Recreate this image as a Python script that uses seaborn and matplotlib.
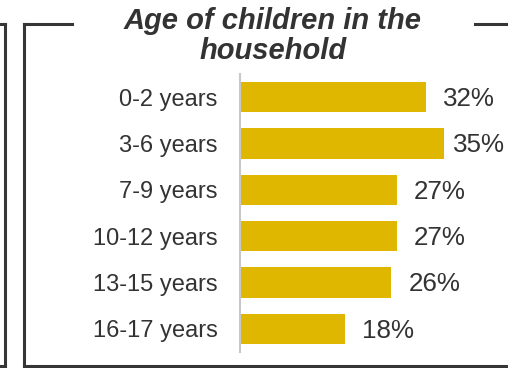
import matplotlib
matplotlib.use("Agg")
import matplotlib.pyplot as plt
import seaborn as sns
import pandas as pd
from matplotlib.lines import Line2D

# data
age_groups = ['0-2 years', '3-6 years', '7-9 years', '10-12 years', '13-15 years', '16-17 years']
shares = [32, 35, 27, 27, 26, 18]

sns.set_style('white')
plt.rcParams['font.family'] = ['Liberation Sans', 'DejaVu Sans']

W, H = 508, 368
fig = plt.figure(figsize=(W / 100, H / 100), dpi=100)
ax = fig.add_axes([240 / W, 1 - 352 / H, 233 / W, 278 / H])

df = pd.DataFrame({'age': age_groups, 'share': shares})
sns.barplot(data=df, y='age', x='share', orient='h', color='#E0B700',
            saturation=1, width=0.65, edgecolor='none', ax=ax)

ax.set_xlim(0, 40)
ax.set_ylim(5.5, -0.5)
ax.set_xlabel('')
ax.set_ylabel('')
ax.set_xticks([])
ax.tick_params(axis='y', length=0, pad=16, labelsize=17, labelcolor='#333333')
for s in ['top', 'right', 'bottom']:
    ax.spines[s].set_visible(False)
ax.spines['left'].set_color('#C8C8C8')
ax.spines['left'].set_linewidth(1.5)

# value labels, kept inside the frame
for i, v in enumerate(shares):
    ax.text(min(v + 2.9, 36.5), i + 0.04, f'{v}%', va='center', ha='left',
            fontsize=18.7, color='#333333', clip_on=False)

# title (two lines, bold italic)
tx = 273 / W
fig.text(tx, 1 - 29 / H, 'Age of children in the', ha='center', va='baseline',
         fontsize=21, fontweight='bold', fontstyle='italic', color='#333333')
fig.text(tx, 1 - 59 / H, 'household', ha='center', va='baseline',
         fontsize=21, fontweight='bold', fontstyle='italic', color='#333333')

# frame lines in pixel positions
def seg(x0, y0, x1, y1):
    fig.add_artist(Line2D([x0 / W, x1 / W], [1 - y0 / H, 1 - y1 / H],
                          transform=fig.transFigure, color='#363636',
                          linewidth=2.2, solid_capstyle='projecting'))

# neighbouring panel edge on the left
seg(0, 23.5, 5, 23.5)
seg(5, 23.5, 5, 366)
seg(0, 366, 5, 366)
# this panel's box, top broken by the title
seg(23.5, 23.5, 23.5, 366)
seg(23.5, 23.5, 72, 23.5)
seg(475, 23.5, 510, 23.5)
seg(23.5, 366, 510, 366)

fig.savefig('out.png', dpi=100)
